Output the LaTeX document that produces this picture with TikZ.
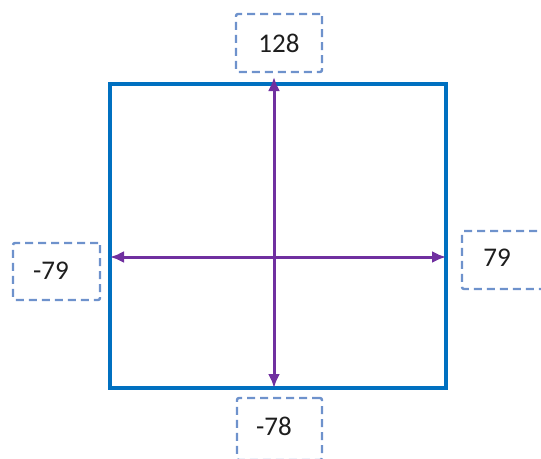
\documentclass[tikz,border=0pt]{standalone}
\usepackage{fontspec}
\setmainfont{Carlito}
\usetikzlibrary{arrows.meta}
\definecolor{sqblue}{RGB}{0,112,192}
\definecolor{arrpurple}{RGB}{112,48,160}
\definecolor{dashblue}{RGB}{110,146,204}
\definecolor{txt}{RGB}{30,30,30}
\tikzset{
  valbox/.style={draw=dashblue, line width=2.4pt, dash pattern=on 8pt off 5pt, rounded corners=2pt,
    inner sep=0pt},
  valtext/.style={font=\fontsize{27}{32}\selectfont, text=txt, inner sep=0pt},
  axis/.style={draw=arrpurple, line width=3pt, {Latex[length=14pt,width=12pt]}-{Latex[length=14pt,width=12pt]}},
}
\begin{document}
\begin{tikzpicture}[x=1pt,y=-1pt]
\useasboundingbox (0,0) rectangle (541,458);
\clip (0,0) rectangle (541,458);
\node[draw=sqblue, line width=4.2pt, minimum width=336pt, minimum height=304pt, inner sep=0pt] (sq) at (278,236) {};
\coordinate (t) at (274,77);
\coordinate (b) at (274,388);
\coordinate (l) at (110,257);
\coordinate (r) at (446,257);
\draw[axis] (t) -- (b);
\draw[axis] (l) -- (r);
\node[valbox, minimum width=86pt, minimum height=58pt] (top) at (279,43) {};
\node[valtext] (toptext) at (279,43) {128};
\node[valbox, minimum width=87pt, minimum height=57pt] (left) at (56.5,271.5) {};
\node[valtext] (lefttext) at (51,271) {-79};
\node[valbox, minimum width=90pt, minimum height=58pt] (right) at (507,260) {};
\node[valtext] (righttext) at (497,258) {79};
\node[valbox, minimum width=85pt, minimum height=62pt] (bot) at (279.5,429) {};
\node[valtext] (bottext) at (274,426) {-78};
\end{tikzpicture}
\end{document}
